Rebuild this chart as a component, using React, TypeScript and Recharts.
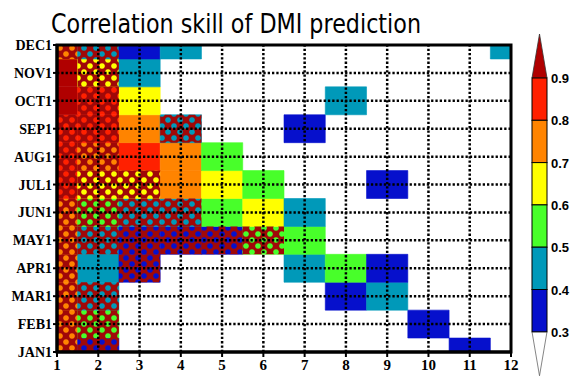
import React from "react";
import {
  ScatterChart,
  Scatter,
  XAxis,
  YAxis,
  ReferenceArea,
  ReferenceLine,
} from "recharts";

// lead months (x) and start months (y)
const leads = [1, 2, 3, 4, 5, 6, 7, 8, 9, 10, 11, 12];
const startMonths = ["JAN1", "FEB1", "MAR1", "APR1", "MAY1", "JUN1", "JUL1", "AUG1", "SEP1", "OCT1", "NOV1", "DEC1"];

// correlation skill by lead 1..12, null = below 0.3 (blank)
const jan1 = [0.75, 0.35, null, null, null, null, null, null, null, null, 0.35, null];
const feb1 = [0.75, 0.55, null, null, null, null, null, null, null, 0.35, null, null];
const mar1 = [0.75, 0.45, null, null, null, null, null, 0.35, 0.45, null, null, null];
const apr1 = [0.75, 0.45, 0.35, null, null, null, 0.45, 0.55, 0.35, null, null, null];
const may1 = [0.75, 0.45, 0.35, 0.35, 0.35, 0.55, 0.55, null, null, null, null, null];
const jun1 = [0.75, 0.55, 0.45, 0.45, 0.55, 0.65, 0.45, null, null, null, null, null];
const jul1 = [0.85, 0.65, 0.65, 0.75, 0.65, 0.55, null, null, 0.35, null, null, null];
const aug1 = [0.85, 0.75, 0.85, 0.75, 0.55, null, null, null, null, null, null, null];
const sep1 = [0.85, 0.85, 0.75, 0.45, null, null, 0.35, null, null, null, null, null];
const oct1 = [0.95, 0.85, 0.65, null, null, null, null, 0.45, null, null, null, null];
const nov1 = [0.95, 0.65, 0.45, null, null, null, null, null, null, null, null, null];
const dec1 = [0.75, 0.45, 0.35, 0.45, null, null, null, null, null, null, null, 0.45];
const skillRows = [jan1, feb1, mar1, apr1, may1, jun1, jul1, aug1, sep1, oct1, nov1, dec1];

// hatched cells as [start month index 1..12, lead]
const hatchedCells = [
  [1, 1], [1, 2],
  [2, 1], [2, 2],
  [3, 1], [3, 2],
  [4, 1], [4, 3],
  [5, 1], [5, 2], [5, 3], [5, 4], [5, 5], [5, 6],
  [6, 1], [6, 2], [6, 3], [6, 4],
  [7, 1], [7, 2], [7, 3],
  [8, 1], [8, 2],
  [9, 1], [9, 2], [9, 4],
  [10, 2],
  [11, 2],
  [12, 1], [12, 2],
];

// colour scale
const levels = [0.3, 0.4, 0.5, 0.6, 0.7, 0.8, 0.9];
const levelColors = ["#0610cc", "#0099b9", "#48ff2a", "#ffff00", "#ff8400", "#ff2000"];
const overColor = "#b00000";
const levelLabels = ["0.3", "0.4", "0.5", "0.6", "0.7", "0.8", "0.9"];

const colorFor = (v: number) => {
  if (v >= levels[levels.length - 1]) return overColor;
  for (let i = 0; i < levelColors.length; i++) {
    if (v < levels[i + 1]) return levelColors[i];
  }
  return overColor;
};

const isHatched = (r: number, c: number) => hatchedCells.some(([a, b]) => a === r && b === c);

const cells: { row: number; lead: number; v: number }[] = [];
skillRows.forEach((row, ri) =>
  row.forEach((v, ci) => {
    if (v !== null) cells.push({ row: ri + 1, lead: ci + 1, v });
  })
);

const tickFont = { fontFamily: "Liberation Serif", fontWeight: 900, fontSize: 15, fill: "#000" };

export default function App() {
  // colourbar geometry
  const barX = 532;
  const barW = 15;
  const barTop = 78;
  const segH = 42.3;
  const barBottom = barTop + segH * levelColors.length;
  const segs = levelColors.slice().reverse();

  return (
    <div style={{ position: "absolute", left: 0, top: 0, width: 571, height: 380, background: "#fff" }}>
      <ScatterChart width={571} height={380} margin={{ top: 45, right: 60, bottom: 0, left: 0 }}>
        <XAxis
          type="number"
          dataKey="lead"
          domain={[1, 12]}
          ticks={leads}
          allowDataOverflow
          height={28}
          tick={tickFont}
          tickSize={5}
          tickMargin={2}
          tickLine={{ stroke: "#000", strokeWidth: 2 }}
          axisLine={{ stroke: "#000", strokeWidth: 3 }}
        />
        <YAxis
          type="number"
          dataKey="row"
          domain={[1, 12]}
          ticks={leads}
          allowDataOverflow
          width={57}
          tickFormatter={(v: number) => startMonths[v - 1]}
          tick={{ ...tickFont, fontSize: 14 }}
          tickSize={4}
          tickMargin={1}
          tickLine={{ stroke: "#000", strokeWidth: 2 }}
          axisLine={{ stroke: "#000", strokeWidth: 3 }}
        />
        {cells.map((c) => (
          <ReferenceArea
            key={`c-${c.row}-${c.lead}`}
            x1={c.lead - 0.5}
            x2={c.lead + 0.5}
            y1={c.row - 0.5}
            y2={c.row + 0.5}
            fill={colorFor(c.v)}
            fillOpacity={1}
            stroke={colorFor(c.v)}
            strokeWidth={0.6}
            ifOverflow="hidden"
          />
        ))}
        {cells
          .filter((c) => isHatched(c.row, c.lead))
          .map((c) => (
            <ReferenceArea
              key={`h-${c.row}-${c.lead}`}
              x1={c.lead - 0.5}
              x2={c.lead + 0.5}
              y1={c.row - 0.5}
              y2={c.row + 0.5}
              fill="url(#mesh)"
              fillOpacity={1}
              stroke="none"
              ifOverflow="hidden"
            />
          ))}
        {leads.slice(1, -1).map((x) => (
          <ReferenceLine
            key={`vx-${x}`}
            x={x}
            stroke="#000"
            strokeWidth={2.5}
            strokeDasharray="2.3 2"
          />
        ))}
        {leads.slice(1, -1).map((y) => (
          <ReferenceLine
            key={`hy-${y}`}
            y={y}
            stroke="#000"
            strokeWidth={2.5}
            strokeDasharray="2.3 2"
          />
        ))}
        <ReferenceArea
          x1={1}
          x2={12}
          y1={1}
          y2={12}
          fill="none"
          stroke="#000"
          strokeWidth={3}
          ifOverflow="visible"
        />
        <Scatter data={cells} fill="transparent" isAnimationActive={false} />
      </ScatterChart>
      <svg
        width={571}
        height={380}
        style={{ position: "absolute", left: 0, top: 0, pointerEvents: "none" }}
      >
        <defs>
          <pattern id="mesh" patternUnits="userSpaceOnUse" width={12} height={12}>
            <path
              fill="#a00808"
              fillRule="evenodd"
              d="M0 0H12V12H0Z M6 3.2a2.8 2.8 0 1 0 0.001 0Z M0 -2.8a2.8 2.8 0 1 0 0.001 0Z M12 -2.8a2.8 2.8 0 1 0 0.001 0Z M0 9.2a2.8 2.8 0 1 0 0.001 0Z M12 9.2a2.8 2.8 0 1 0 0.001 0Z"
            />
          </pattern>
        </defs>
        <text
          x={51}
          y={33}
          fontFamily="DejaVu Sans"
          fontSize={26}
          textLength={370}
          lengthAdjust="spacingAndGlyphs"
          fill="#000"
        >
          Correlation skill of DMI prediction
        </text>
        {/* colourbar */}
        <path
          d={`M${barX} ${barTop} L${barX + barW / 2} ${barTop - 44} L${barX + barW} ${barTop} Z`}
          fill={overColor}
          stroke="#333"
          strokeWidth={0.8}
        />
        <path
          d={`M${barX} ${barBottom} L${barX + barW / 2} ${barBottom + 44} L${barX + barW} ${barBottom} Z`}
          fill="#fff"
          stroke="#666"
          strokeWidth={0.8}
        />
        {segs.map((col, i) => (
          <rect
            key={col}
            x={barX}
            y={barTop + i * segH}
            width={barW}
            height={segH}
            fill={col}
            stroke="#000"
            strokeWidth={1}
          />
        ))}
        {levelLabels
          .slice()
          .reverse()
          .map((lab, i) => (
            <text
              key={lab}
              x={barX + barW + 4}
              y={barTop + i * segH + 5}
              fontFamily="Liberation Sans"
              fontWeight="bold"
              fontSize={13}
              fill="#000"
            >
              {lab}
            </text>
          ))}
      </svg>
    </div>
  );
}
